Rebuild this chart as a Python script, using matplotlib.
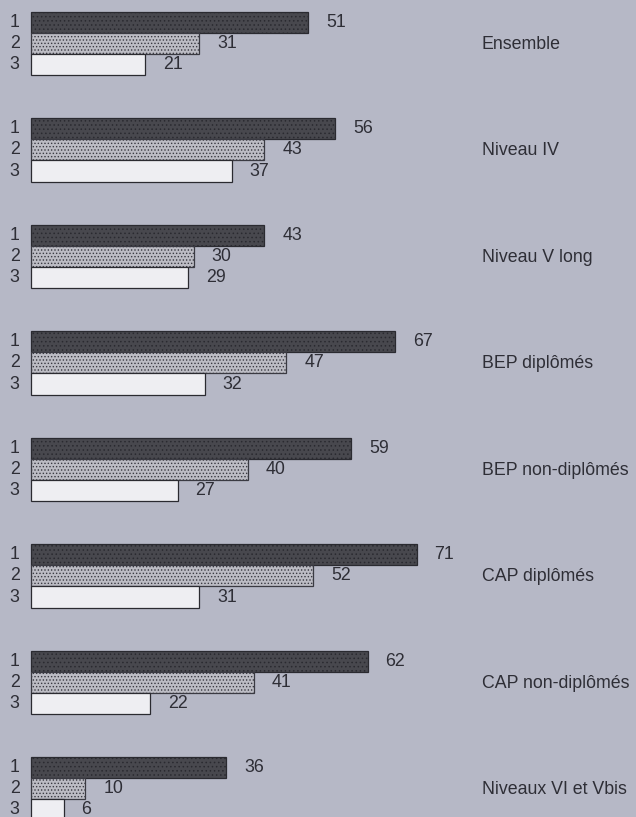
import matplotlib
matplotlib.use("Agg")
import matplotlib.pyplot as plt

categories = ["Ensemble", "Niveau IV", "Niveau V long", "BEP diplômés",
              "BEP non-diplômés", "CAP diplômés", "CAP non-diplômés",
              "Niveaux VI et Vbis"]
serie1 = [51, 56, 43, 67, 59, 71, 62, 36]
serie2 = [31, 43, 30, 47, 40, 52, 41, 10]
serie3 = [21, 37, 29, 32, 27, 31, 22, 6]
row_labels = ["1", "2", "3"]

W, H = 636, 817
bg = "#b6b8c6"
txt = "#2e2e36"
plt.rcParams["font.family"] = ["Liberation Sans", "DejaVu Sans"]
plt.rcParams["hatch.linewidth"] = 0.6

fig = plt.figure(figsize=(W / 100, H / 100), dpi=100, facecolor=bg)
ax = fig.add_axes([0, 0, 1, 1])
ax.set_facecolor(bg)

x0_px = 31.0
scale = 5.43
ax.set_xlim(-x0_px / scale, (W - x0_px) / scale)
ax.set_ylim(H, 0)
ax.axis("off")

top0 = 11.5
gap = 106.5
bh = 21.2

styles = [
    dict(color="#48484e", hatch="....", edgecolor="#2a2a30"),
    dict(color="#bcbcc4", hatch=".....", edgecolor="#3a3a42"),
    dict(color="#eeeef2", hatch=None, edgecolor="#2a2a30"),
]
series = [serie1, serie2, serie3]
fs = 12.8
for g, cat in enumerate(categories):
    for k in range(3):
        yc = top0 + gap * g + bh * k + bh / 2
        v = series[k][g]
        st = styles[k]
        ax.barh(yc, v, height=bh, left=0, color=st["color"],
                edgecolor=st["edgecolor"], hatch=st["hatch"], linewidth=0.9)
        ax.text(-3.0, yc, row_labels[k], ha="center", va="center",
                fontsize=fs, color=txt)
        ax.text(v + 3.3, yc, str(v), ha="left", va="center", fontsize=fs,
                color=txt)
    ax.text(83.0, top0 + gap * g + bh * 1.5 + 1, cat, ha="left", va="center",
            fontsize=fs, color=txt)

fig.savefig("out.png", dpi=100, facecolor=bg)
